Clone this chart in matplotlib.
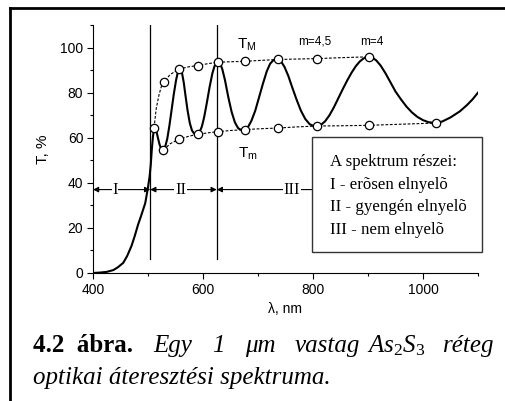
import matplotlib
matplotlib.use('Agg')
import matplotlib.pyplot as plt
from matplotlib.lines import Line2D
from matplotlib.patches import Rectangle
from matplotlib.ticker import MultipleLocator

plt.rcParams['font.family'] = ['Liberation Sans', 'DejaVu Sans']
plt.rcParams['mathtext.fontset'] = 'custom'
plt.rcParams['mathtext.rm'] = 'Liberation Serif'
plt.rcParams['mathtext.it'] = 'Liberation Serif:italic'

# transmission spectrum
wl = [400, 413, 425, 437, 445, 455, 462, 470, 476, 482, 487, 491, 495, 500, 503,
      505, 507, 509, 511, 513, 515, 518, 521, 524, 527, 531, 535, 539, 543, 547,
      551, 554, 556, 558, 560, 562, 565, 568, 572, 576, 580, 584, 588, 591, 594,
      598, 602, 607, 612, 617, 621, 625, 628, 631, 635, 640, 646, 652, 658, 664,
      670, 676, 682, 688, 695, 702, 709, 716, 722, 728, 733, 737, 742, 748, 755,
      762, 770, 778, 786, 794, 801, 808, 815, 822, 830, 838, 846, 854, 862, 870,
      878, 885, 891, 896, 902, 908, 915, 923, 932, 941, 950, 960, 970, 980, 990,
      1000, 1010, 1023, 1035, 1050, 1067, 1080, 1090, 1100]
T = [0, 0.2, 0.5, 1.3, 2.5, 4.5, 7.5, 12, 16.5, 21.5, 25, 28, 31, 38, 43,
     48, 55, 60.5, 64, 64.5, 63.3, 60, 57, 55, 54.3, 55.8, 59.5, 65.5, 72.5, 79.5,
     85.5, 88.8, 90.1, 90.5, 90, 88.5, 84.5, 79, 72, 66.5, 63.2, 61.8, 61.4, 61.6, 62.6,
     65, 69, 75.5, 82.5, 88.5, 91.8, 93.2, 93.5, 93, 90.5, 85.5, 78, 71.5, 66.8, 64.2,
     63.4, 63.6, 64.8, 67.5, 72, 78, 84, 89.5, 92.8, 94.4, 94.8, 94.7, 93.8, 91.5, 87.5,
     82.5, 77, 72, 68.3, 66, 65.2, 65.2, 65.8, 67.3, 70, 73.5, 77.5, 81.5, 85.3, 88.8,
     91.8, 93.8, 95, 95.7, 95.9, 95.5, 94.3, 92, 88.5, 84.5, 80.5, 77, 73.8, 71.2, 69.2,
     67.8, 66.9, 66.5, 67.2, 69, 71.7, 74.5, 77, 80]

# envelopes
tm_up_x = [511, 515, 520, 524, 529, 540, 557, 575, 590, 610, 628, 650, 676, 705, 737, 770, 808, 850, 902]
tm_up_y = [64.5, 73, 79, 82.5, 84.6, 88, 90.5, 91.5, 92, 92.9, 93.5, 93.7, 93.9, 94.3, 94.7, 94.9, 95.1, 95.5, 95.9]
tm_lo_x = [528, 540, 557, 575, 590, 610, 628, 650, 676, 705, 737, 770, 808, 850, 902, 960, 1023]
tm_lo_y = [54.5, 57.3, 59.4, 60.7, 61.5, 62.2, 62.7, 63.2, 63.6, 64.0, 64.3, 64.8, 65.2, 65.3, 65.5, 66.0, 66.5]
up_pts_x = [511, 529, 557, 590, 628, 676, 737, 808, 902]
up_pts_y = [64.5, 84.6, 90.5, 92, 93.5, 93.9, 94.7, 95.1, 95.9]
lo_pts_x = [528, 557, 590, 628, 676, 737, 808, 902, 1023]
lo_pts_y = [54.5, 59.4, 61.5, 62.7, 63.6, 64.3, 65.2, 65.5, 66.5]

vlines = [504, 625]
regions = [(400, 504, 'I', 440), (504, 625, 'II', 559), (625, 1100, 'III', 762)]
legend_lines = ['A spektrum részei:', 'I - erõsen elnyelõ',
                'II - gyengén elnyelõ', 'III - nem elnyelõ']

W, H = 506, 401
fig = plt.figure(figsize=(W / 100, H / 100), dpi=100)
ax = fig.add_axes([93 / W, 1 - 273 / H, (478 - 93) / W, (273 - 25) / H])

ax.plot(wl, T, color='k', lw=1.5, zorder=3)
ax.plot(tm_up_x, tm_up_y, color='k', lw=0.8, dashes=(2.5, 1.5), zorder=2)
ax.plot(tm_lo_x, tm_lo_y, color='k', lw=0.8, dashes=(2.5, 1.5), zorder=2)
ax.plot(up_pts_x, up_pts_y, 'o', ms=6, mfc='white', mec='k', mew=0.9, zorder=4)
ax.plot(lo_pts_x, lo_pts_y, 'o', ms=6, mfc='white', mec='k', mew=0.9, zorder=4)

for v in vlines:
    ax.plot([v, v], [6, 110], color='k', lw=0.9, zorder=1)

for x0, x1, lab, xt in regions:
    ax.annotate('', xy=(x0, 37), xytext=(x1, 37),
                arrowprops=dict(arrowstyle='<|-|>', lw=0.8, color='k',
                                shrinkA=0, shrinkB=0, mutation_scale=8), zorder=2)
    ax.text(xt, 37, lab, family='Liberation Serif', fontsize=12, ha='center', va='center',
            bbox=dict(fc='white', ec='none', pad=0.5), zorder=3)

ax.text(680, 101, r'T$_\mathregular{M}$', fontsize=11, ha='center', va='center')
ax.text(682, 53, r'T$_\mathregular{m}$', fontsize=11, ha='center', va='center')
ax.text(804, 102.5, 'm=4,5', fontsize=8.5, ha='center', va='center')
ax.text(907, 102.5, 'm=4', fontsize=8.5, ha='center', va='center')

ax.set_xlim(400, 1100)
ax.set_ylim(0, 110)
for s in ['top', 'right']:
    ax.spines[s].set_visible(False)
ax.xaxis.set_major_locator(MultipleLocator(200))
ax.xaxis.set_minor_locator(MultipleLocator(100))
ax.yaxis.set_major_locator(MultipleLocator(20))
ax.yaxis.set_minor_locator(MultipleLocator(10))
ax.tick_params(which='major', direction='out', length=4, width=0.8, labelsize=10, pad=3)
ax.tick_params(which='minor', direction='out', length=2.5, width=0.8)
ax.set_xlabel('λ, nm', fontsize=10, labelpad=4)
ax.set_ylabel('T, %', fontsize=11, labelpad=7)

# legend box drawn over the region III arrow
box = Rectangle((312 / W, 1 - 252 / H), (482 - 312) / W, (252 - 137) / H,
                transform=fig.transFigure, fc='white', ec='#333333', lw=1, zorder=5)
fig.add_artist(box)
for i, line in enumerate(legend_lines):
    fig.text(330 / W, 1 - (162 + 22.7 * i) / H, line, family='Liberation Serif',
             fontsize=12.2, ha='left', va='center', zorder=6)

# frame of the scanned figure
fig.add_artist(Line2D([10 / W, 1], [1 - 8 / H, 1 - 8 / H], color='k', lw=2, transform=fig.transFigure))
fig.add_artist(Line2D([10 / W, 10 / W], [0, 1 - 8 / H], color='k', lw=2, transform=fig.transFigure))

# caption
cap = dict(family='Liberation Serif', fontsize=18, va='baseline', ha='left')
fig.text(33 / W, 1 - 352 / H, '4.2  ábra.', weight='bold', **cap)
words = [('Egy', 153), ('1', 212), ('μm', 245), ('vastag', 295),
         (r'$\mathit{As}_2\mathit{S}_3$', 367), ('réteg', 443)]
for w, x in words:
    fig.text(x / W, 1 - 352 / H, w, style='italic', **cap)
fig.text(33 / W, 1 - 384 / H, 'optikai áteresztési spektruma.', style='italic', **cap)

fig.savefig('out.png', dpi=100)
